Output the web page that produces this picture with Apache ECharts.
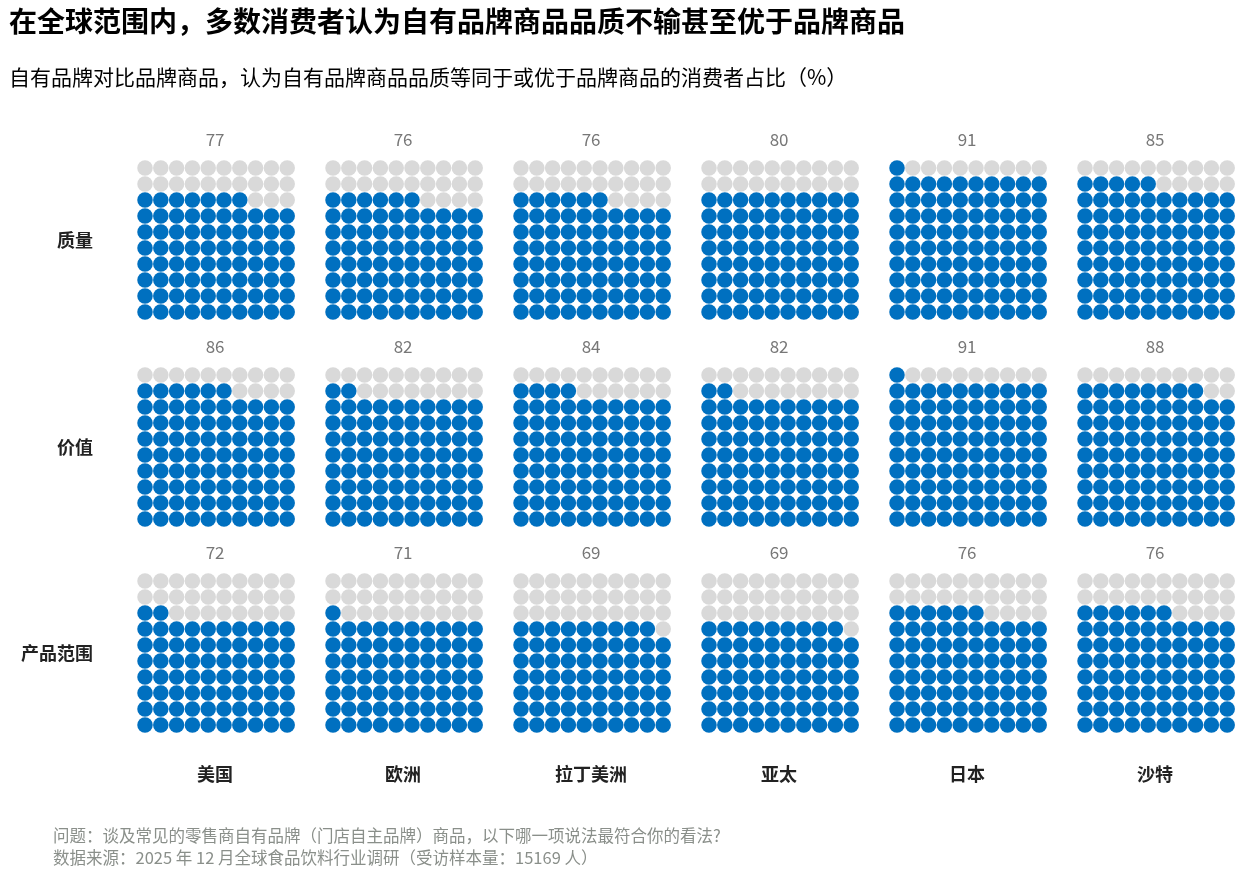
<!DOCTYPE html>
<html>
<head>
<meta charset="utf-8">
<script src="https://cdn.jsdelivr.net/npm/echarts@6/dist/echarts.min.js"></script>
<style>html,body{margin:0;padding:0;background:#fff}#chart{width:1244px;height:870px}</style>
</head>
<body>
<div id="chart"></div>
<script>
var regions = ['美国', '欧洲', '拉丁美洲', '亚太', '日本', '沙特'];
var metrics = ['质量', '价值', '产品范围'];
var quality = [77, 76, 76, 80, 91, 85];
var worth = [86, 82, 84, 82, 91, 88];
var range = [72, 71, 69, 69, 76, 76];
var allValues = [quality, worth, range];

var myChart = echarts.init(document.getElementById('chart'));
var font = '"Noto Sans CJK SC", sans-serif';
var blue = '#0070c0', grey = '#d9d9d9';
var colX = [145, 333, 521, 709, 897, 1085];  // 每组第一个点的中心x
var rowY = [168, 375, 581];                   // 每行第一排点的中心y
var stepX = 15.8, stepY = 16;

var grids = [], xAxes = [], yAxes = [], series = [], titles = [];
titles.push({text: '在全球范围内，多数消费者认为自有品牌商品品质不输甚至优于品牌商品', left: 4, top: 2,
    textStyle: {fontFamily: font, fontSize: 28, fontWeight: 'bold', color: '#000'}});
titles.push({text: '自有品牌对比品牌商品，认为自有品牌商品品质等同于或优于品牌商品的消费者占比（%）', left: 4, top: 62,
    textStyle: {fontFamily: font, fontSize: 21, fontWeight: 'normal', color: '#000'}});
titles.push({text: '问题：谈及常见的零售商自有品牌（门店自主品牌）商品，以下哪一项说法最符合你的看法?\n数据来源：2025 年 12 月全球食品饮料行业调研（受访样本量：15169 人）',
    left: 48, top: 820, textStyle: {fontFamily: font, fontSize: 16.5, fontWeight: 'normal', color: '#8a8f8a', lineHeight: 22}});

for (var r = 0; r < 3; r++) {
    titles.push({text: metrics[r], left: 88, top: rowY[r] + 72 - 14, textAlign: 'right',
        textStyle: {fontFamily: font, fontSize: 18, fontWeight: 'bold', color: '#222'}});
    for (var c = 0; c < 6; c++) {
        var idx = grids.length;
        var v = allValues[r][c];
        grids.push({left: colX[c], top: rowY[r], width: stepX * 9, height: stepY * 9});
        xAxes.push({gridIndex: idx, type: 'value', min: 0, max: 9, show: false});
        yAxes.push({gridIndex: idx, type: 'value', min: 0, max: 9, inverse: true, show: false});
        var pts = [];
        for (var i = 0; i < 100; i++) {
            // 从底部开始按行填充，行内从左到右
            var row = 9 - Math.floor(i / 10), col = i % 10;
            pts.push({value: [col, row], itemStyle: {color: i < v ? blue : grey, opacity: 1}});
        }
        series.push({type: 'scatter', xAxisIndex: idx, yAxisIndex: idx, symbolSize: 15.5,
            data: pts, silent: true, animation: false});
        titles.push({text: String(v), left: colX[c] + stepX * 4.5 - 6, top: rowY[r] - 42, textAlign: 'center',
            textStyle: {fontFamily: font, fontSize: 17, fontWeight: 'normal', color: '#777'}});
    }
}
for (var c = 0; c < 6; c++) {
    titles.push({text: regions[c], left: colX[c] + stepX * 4.5 - 6, top: 760, textAlign: 'center',
        textStyle: {fontFamily: font, fontSize: 18, fontWeight: 'bold', color: '#222'}});
}

myChart.setOption({
    title: titles,
    grid: grids,
    xAxis: xAxes,
    yAxis: yAxes,
    series: series
});
</script>
</body>
</html>
